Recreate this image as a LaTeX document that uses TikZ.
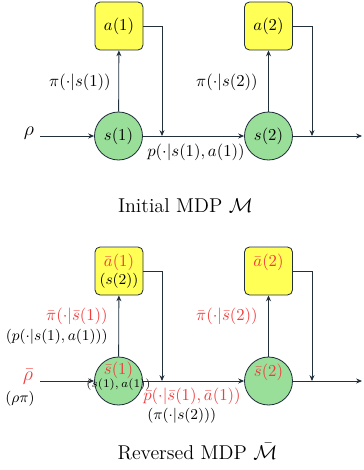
\documentclass[tikz,border=0pt]{standalone}
\usetikzlibrary{arrows.meta}
\definecolor{boxyellow}{HTML}{FFFF55}
\definecolor{stategreen}{HTML}{99DE99}
\definecolor{edgec}{HTML}{22303C}
\definecolor{redtxt}{HTML}{F23B3B}
\begin{document}
\begin{tikzpicture}[x=0.6pt,y=0.6pt,
  actbox/.style={draw=edgec,fill=boxyellow,rounded corners=3pt,minimum width=28.8pt,minimum height=28.8pt,inner sep=0pt,line width=0.5pt},
  statec/.style={draw=edgec,fill=stategreen,circle,minimum size=28.8pt,inner sep=0pt,line width=0.5pt},
  conn/.style={draw=edgec,line width=0.5pt,-{Stealth[length=3.5pt,width=3pt]}},
  lbl/.style={inner sep=0pt},
  redl/.style={inner sep=0pt,text=redtxt},
  subl/.style={inner sep=0pt,font=\small}]
\useasboundingbox (0,0) rectangle (363,-470);
% ---------- Top: initial MDP ----------
\node[actbox] (a1) at (119,-26) {$a(1)$};
\node[actbox] (a2) at (268.5,-26) {$a(2)$};
\node[statec] (s1) at (118.5,-136) {$s(1)$};
\node[statec] (s2) at (268.5,-136) {$s(2)$};
\node[lbl] (rho) at (29,-133) {\large$\rho$};
\coordinate (rs) at (40,-136);
\coordinate (j1) at (162,-136);
\coordinate (j2) at (312,-136);
\coordinate (e1) at (362,-136);
\draw[conn] (rs) -- (s1);
\draw[conn] (s1) -- (s2);
\draw[conn] (s2.east) -- (e1);
\draw[conn] (s1) -- (a1);
\draw[conn] (s2) -- (a2);
\draw[conn] (a1.east) -| (j1);
\draw[conn] (a2.east) -| (j2);
\node[lbl,anchor=east] (pi1) at (111,-82) {$\pi(\cdot|s(1))$};
\node[lbl,anchor=east] (pi2) at (258,-82) {$\pi(\cdot|s(2))$};
\node[lbl,anchor=west] (p1) at (147,-152) {$p(\cdot|s(1),a(1))$};
\node[lbl] (t1) at (185.5,-206) {\large Initial MDP $\mathcal{M}$};
% ---------- Bottom: reversed MDP ----------
\node[actbox] (b1) at (119,-271) {};
\node[redl] (b1t) at (119,-262) {$\bar a(1)$};
\node[subl] (b1s) at (119,-281) {$(s(2))$};
\node[actbox] (b2) at (268.5,-271) {};
\node[redl] (b2t) at (268.5,-262) {$\bar a(2)$};
\node[statec] (r1) at (118.5,-381) {};
\node[statec] (r2) at (268.5,-381) {};
\node[redl] (r1t) at (118.5,-370) {$\bar s(1)$};
\node[lbl] (r1s) at (118.5,-385) {\scriptsize$(s(1),a(1))$};
\node[redl] (r2t) at (268.5,-372) {$\bar s(2)$};
\node[redl] (rhob) at (28,-377) {\large$\bar\rho$};
\node[subl] (rhopi) at (20,-399) {$(\rho\pi)$};
\coordinate (rs2) at (40,-381);
\coordinate (k1) at (162,-381);
\coordinate (k2) at (312,-381);
\coordinate (e2) at (362,-381);
\draw[conn] (rs2) -- (r1);
\draw[conn] (r1) -- (r2);
\draw[conn] (r2.east) -- (e2);
\draw[conn] (r1) -- (b1);
\draw[conn] (r2) -- (b2);
\draw[conn] (b1.east) -| (k1);
\draw[conn] (b2.east) -| (k2);
\node[redl,anchor=east] (pib1) at (108,-316) {$\bar\pi(\cdot|\bar s(1))$};
\node[subl,anchor=east] (pib1s) at (108,-337) {$(p(\cdot|s(1),a(1)))$};
\node[redl,anchor=east] (pib2) at (258,-316) {$\bar\pi(\cdot|\bar s(2))$};
\node[redl,anchor=west] (pb1) at (143,-396) {$\bar p(\cdot|\bar s(1),\bar a(1))$};
\node[subl,anchor=west] (pb1s) at (147,-416) {$(\pi(\cdot|s(2)))$};
\node[lbl] (t2) at (197.5,-452) {\large Reversed MDP $\bar{\mathcal{M}}$};
\end{tikzpicture}
\end{document}
